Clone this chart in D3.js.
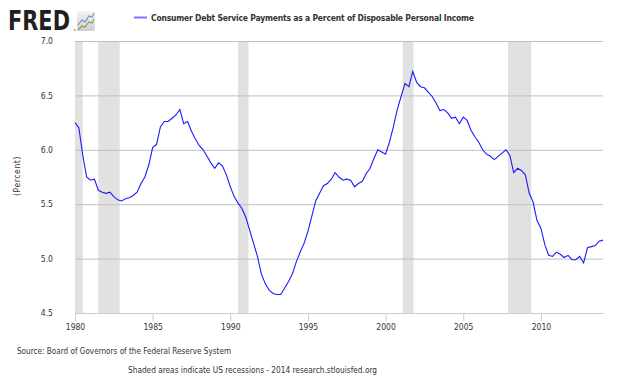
<!DOCTYPE html>
<html>
<head>
<meta charset="utf-8">
<script src="https://cdn.jsdelivr.net/npm/d3@7"></script>
<style>
  body { margin: 0; background: #fff; }
  text { font-family: "DejaVu Sans Condensed", "Liberation Sans", sans-serif; fill: #333; }
</style>
</head>
<body>
<svg id="chart" width="630" height="378"></svg>
<script>
// quarterly values, 1980 Q1 .. 2014 Q1
let startYear = 1980;
let debtService = [
  6.25, 6.20, 5.95, 5.75,
  5.72, 5.73, 5.63, 5.61,
  5.60, 5.61, 5.57, 5.54,
  5.53, 5.55, 5.56, 5.58,
  5.61, 5.69, 5.75, 5.86,
  6.02, 6.05, 6.21, 6.26,
  6.26, 6.29, 6.32, 6.37,
  6.24, 6.26, 6.17, 6.10,
  6.04, 6.00, 5.94, 5.88,
  5.83, 5.88, 5.85, 5.77,
  5.66, 5.57, 5.51, 5.46,
  5.38, 5.26, 5.14, 5.02,
  4.86, 4.77, 4.71, 4.68,
  4.67, 4.67, 4.73, 4.79,
  4.86, 4.97, 5.06, 5.14,
  5.25, 5.39, 5.53, 5.60,
  5.67, 5.69, 5.73, 5.79,
  5.75, 5.72, 5.73, 5.72,
  5.66, 5.69, 5.71, 5.78,
  5.83, 5.92, 6.00, 5.98,
  5.96, 6.07, 6.21, 6.37,
  6.49, 6.61, 6.58, 6.72,
  6.62, 6.58, 6.57, 6.53,
  6.49, 6.43, 6.36, 6.37,
  6.34, 6.29, 6.30, 6.24,
  6.30, 6.27, 6.18, 6.12,
  6.07, 6.00, 5.96, 5.94,
  5.91, 5.94, 5.97, 6.00,
  5.95, 5.79, 5.83, 5.81,
  5.77, 5.60, 5.52, 5.35,
  5.28, 5.13, 5.03, 5.02,
  5.06, 5.04, 5.01, 5.03,
  4.99, 4.99, 5.02, 4.96,
  5.10, 5.11, 5.12, 5.16,
  5.17
];
let recessions = [
  [1980.0, 1980.5],
  [1981.5, 1982.88],
  [1990.5, 1991.17],
  [2001.1, 2001.8],
  [2007.88, 2009.38]
];
let xTicks = [1980, 1985, 1990, 1995, 2000, 2005, 2010];
let yTicks = [4.5, 5.0, 5.5, 6.0, 6.5, 7.0];

let seriesTitle = 'Consumer Debt Service Payments as a Percent of Disposable Personal Income';
let yLabel = '(Percent)';
let sourceNote = 'Source: Board of Governors of the Federal Reserve System';
let footNote = 'Shaded areas indicate US recessions - 2014 research.stlouisfed.org';

let data = debtService.map((v, i) => ({ date: startYear + i / 4, value: v }));

let svg = d3.select('#chart');

let x = d3.scaleLinear().domain([1980, 2014]).range([75, 603]);
let y = d3.scaleLinear().domain([4.5, 7]).range([313, 41]);

// recession bands
svg.append('g')
  .selectAll('rect')
  .data(recessions)
  .join('rect')
  .attr('x', (d) => x(d[0]))
  .attr('y', y(7))
  .attr('width', (d) => x(d[1]) - x(d[0]))
  .attr('height', y(4.5) - y(7))
  .attr('fill', '#e1e1e1');

// y grid + labels
let yAxis = svg.append('g')
  .attr('transform', `translate(${x.range()[0]},0)`)
  .call(d3.axisLeft(y).tickValues(yTicks).tickFormat(d3.format('.1f'))
    .tickSize(-(x.range()[1] - x.range()[0])).tickPadding(22));
yAxis.select('.domain').remove();
yAxis.selectAll('line').attr('stroke', '#c0c0c0');
yAxis.selectAll('text').attr('font-size', 8.5).attr('fill', '#333');

// x axis
let xAxis = svg.append('g')
  .attr('transform', `translate(0,${y(4.5)})`)
  .call(d3.axisBottom(x).tickValues(xTicks).tickFormat(d3.format('d'))
    .tickSize(8).tickSizeOuter(0).tickPadding(3));
xAxis.select('.domain').attr('stroke', '#c0d0e0');
xAxis.selectAll('line').attr('stroke', '#c0d0e0');
xAxis.selectAll('text').attr('font-size', 8.5).attr('fill', '#333');

// series line
let line = d3.line()
  .x((d) => x(d.date))
  .y((d) => y(d.value));

svg.append('path')
  .datum(data)
  .attr('d', line)
  .attr('fill', 'none')
  .attr('stroke', '#1a1aff')
  .attr('stroke-width', 1.1);

// y label
svg.append('text')
  .attr('transform', 'translate(20,176) rotate(-90)')
  .attr('text-anchor', 'middle')
  .attr('font-size', 8.5)
  .attr('letter-spacing', 0.6)
  .text(yLabel);

// legend / title
svg.append('line')
  .attr('x1', 134).attr('x2', 147)
  .attr('y1', 17.5).attr('y2', 17.5)
  .attr('stroke', '#7777ff')
  .attr('stroke-width', 2);
svg.append('text')
  .attr('x', 151).attr('y', 20.5)
  .attr('font-size', 8.5)
  .attr('font-weight', 'bold')
  .attr('fill', '#111')
  .attr('textLength', 323)
  .attr('lengthAdjust', 'spacing')
  .text(seriesTitle);

// FRED logo
svg.append('text')
  .attr('x', 8).attr('y', 30)
  .attr('font-family', 'Liberation Sans, Arial, sans-serif')
  .attr('font-size', 26)
  .attr('font-weight', 'bold')
  .style('fill', '#231f20')
  .attr('textLength', 62)
  .attr('lengthAdjust', 'spacingAndGlyphs')
  .text('FRED');
svg.append('text')
  .attr('x', 73.5).attr('y', 31)
  .attr('font-size', 3)
  .style('fill', '#231f20')
  .text('®');

let icon = svg.append('g').attr('transform', 'translate(77,11)');
let grad = svg.append('defs').append('linearGradient')
  .attr('id', 'iconGrad').attr('x1', 0).attr('y1', 0).attr('x2', 0).attr('y2', 1);
grad.append('stop').attr('offset', 0).attr('stop-color', '#f4f4f4');
grad.append('stop').attr('offset', 1).attr('stop-color', '#cfcfcf');
icon.append('rect')
  .attr('width', 18).attr('height', 20).attr('rx', 2)
  .attr('fill', 'url(#iconGrad)');
icon.append('polyline')
  .attr('points', '1,14 5,9 8,11 12,5 15,6 17,2')
  .attr('fill', 'none').attr('stroke', '#6f8fbf').attr('stroke-width', 1.1);
icon.append('polyline')
  .attr('points', '1,19 5,15 8,16 12,11 15,12 17,8')
  .attr('fill', 'none').attr('stroke', '#7fa050').attr('stroke-width', 1.1);

// footer
svg.append('text')
  .attr('x', 17).attr('y', 354)
  .attr('font-size', 8.3)
  .attr('textLength', 214)
  .attr('lengthAdjust', 'spacingAndGlyphs')
  .text(sourceNote);
svg.append('text')
  .attr('x', 128).attr('y', 373)
  .attr('font-size', 8.3)
  .attr('textLength', 249)
  .attr('lengthAdjust', 'spacingAndGlyphs')
  .text(footNote);
</script>
</body>
</html>
